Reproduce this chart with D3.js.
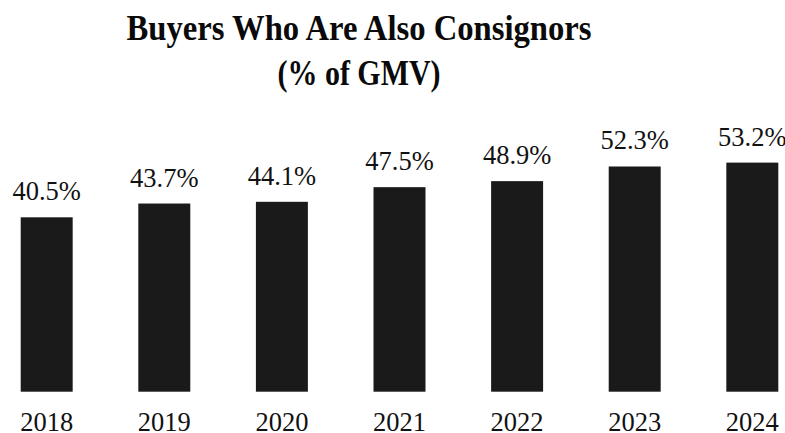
<!DOCTYPE html>
<html>
<head>
<meta charset="utf-8">
<script src="https://cdn.jsdelivr.net/npm/d3@7"></script>
<style>
  body { margin: 0; background: #fff; }
</style>
</head>
<body>
<div class="container"></div>
<script>
// data
const years = ["2018", "2019", "2020", "2021", "2022", "2023", "2024"];
const shares = [40.5, 43.7, 44.1, 47.5, 48.9, 52.3, 53.2];
const titleLines = ["Buyers Who Are Also Consignors", "(% of GMV)"];

const width = 785, height = 433;
const serif = "'Liberation Serif', 'Times New Roman', Times, serif";

const svg = d3.select(".container")
    .append("svg")
    .attr("width", width)
    .attr("height", height);

// title, two bold lines (the reference face is a bit narrow, so squeeze it)
const titleWidths = [465, 163];
svg.append("g")
    .selectAll("text")
    .data(titleLines)
    .enter()
    .append("text")
    .attr("x", 359)
    .attr("y", (d, i) => 39.5 + i * 45.5)
    .attr("text-anchor", "middle")
    .attr("textLength", (d, i) => titleWidths[i])
    .attr("lengthAdjust", "spacingAndGlyphs")
    .style("font-family", serif)
    .style("font-size", "36px")
    .style("font-weight", "bold")
    .style("fill", "#0a0a0a")
    .text(d => d);

const x = d3.scaleBand()
    .domain(years)
    .range([20.7, 778.3])
    .paddingInner(0.558)
    .paddingOuter(0);

const baseY = 391.7;
const y = d3.scaleLinear()
    .domain([0, 60])
    .range([baseY, baseY - 60 * 4.306]);

const rows = years.map((yr, i) => ({ year: yr, value: shares[i] }));

svg.selectAll("rect.bar")
    .data(rows)
    .enter()
    .append("rect")
    .attr("class", "bar")
    .attr("x", d => x(d.year))
    .attr("width", x.bandwidth())
    .attr("y", d => y(d.value))
    .attr("height", d => y(0) - y(d.value))
    .attr("fill", "#1a1a1a");

// value labels above bars
svg.selectAll("text.val")
    .data(rows)
    .enter()
    .append("text")
    .attr("class", "val")
    .attr("x", d => x(d.year) + x.bandwidth() / 2)
    .attr("y", d => y(d.value) - 17)
    .attr("text-anchor", "middle")
    .style("font-family", serif)
    .style("font-size", "26.5px")
    .style("fill", "#111")
    .text(d => d.value.toFixed(1) + "%");

// year axis, no line or ticks
const xAxis = svg.append("g")
    .attr("transform", `translate(0, ${baseY})`)
    .call(d3.axisBottom(x).tickSize(0));

xAxis.select(".domain").remove();
xAxis.selectAll("text")
    .attr("y", 39)
    .attr("dy", 0)
    .attr("fill", "#111")
    .style("font-family", serif)
    .style("font-size", "26.5px");
</script>
</body>
</html>
